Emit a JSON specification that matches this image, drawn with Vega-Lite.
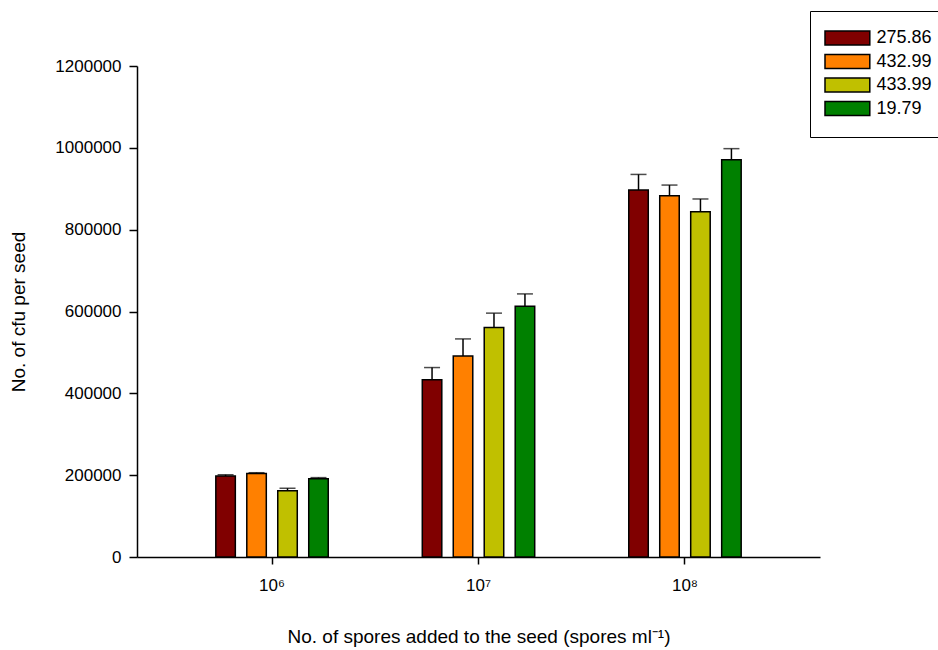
{
  "$schema": "https://vega.github.io/schema/vega-lite/v6.json",
  "autosize": "none",
  "width": 683,
  "height": 491,
  "padding": {"left": 137, "top": 66, "right": 118, "bottom": 93},
  "background": "white",
  "config": {
    "view": {"stroke": null},
    "font": "Liberation Sans",
    "axis": {"grid": false, "domainColor": "black", "tickColor": "black", "labelColor": "black", "titleColor": "black", "labelFont": "Liberation Sans", "titleFont": "Liberation Sans", "titleFontWeight": "normal"}
  },
  "data": {
    "values": [
      {"dose": "10⁶", "isolate": "275.86", "cfu": 198000, "upper": 201000},
      {"dose": "10⁶", "isolate": "432.99", "cfu": 204000, "upper": 206000},
      {"dose": "10⁶", "isolate": "433.99", "cfu": 162000, "upper": 168000},
      {"dose": "10⁶", "isolate": "19.79", "cfu": 191000, "upper": 194000},
      {"dose": "10⁷", "isolate": "275.86", "cfu": 433000, "upper": 463000},
      {"dose": "10⁷", "isolate": "432.99", "cfu": 491000, "upper": 533000},
      {"dose": "10⁷", "isolate": "433.99", "cfu": 561000, "upper": 596000},
      {"dose": "10⁷", "isolate": "19.79", "cfu": 613000, "upper": 643000},
      {"dose": "10⁸", "isolate": "275.86", "cfu": 897000, "upper": 935000},
      {"dose": "10⁸", "isolate": "432.99", "cfu": 883000, "upper": 909000},
      {"dose": "10⁸", "isolate": "433.99", "cfu": 844000, "upper": 875000},
      {"dose": "10⁸", "isolate": "19.79", "cfu": 971000, "upper": 998000}
    ]
  },
  "encoding": {
    "x": {
      "field": "dose", "type": "nominal", "sort": null,
      "scale": {"paddingInner": 0.4, "paddingOuter": 0.354},
      "axis": {"labelAngle": 0, "labelFontSize": 17, "tickSize": 7, "tickWidth": 1.5, "domainWidth": 1.5, "labelPadding": 13, "title": "No. of spores added to the seed (spores ml⁻¹)", "titleFontSize": 19, "titlePadding": 34}
    },
    "xOffset": {
      "field": "isolate", "type": "nominal",
      "sort": ["275.86", "432.99", "433.99", "19.79"],
      "scale": {"paddingInner": 0.37, "paddingOuter": 0.185}
    }
  },
  "layer": [
    {
      "mark": {"type": "bar", "stroke": "black", "strokeWidth": 1.5},
      "encoding": {
        "y": {
          "field": "cfu", "type": "quantitative",
          "scale": {"domain": [0, 1200000], "nice": false},
          "axis": {"values": [0, 200000, 400000, 600000, 800000, 1000000, 1200000], "format": "d", "labelFontSize": 17, "tickSize": 8, "tickWidth": 1.5, "domainWidth": 1.5, "labelPadding": 8, "title": "No. of cfu per seed", "titleFontSize": 19, "titlePadding": 26}
        },
        "color": {
          "field": "isolate", "type": "nominal",
          "scale": {"domain": ["275.86", "432.99", "433.99", "19.79"], "range": ["#800000", "#FF8000", "#C0C000", "#008000"]},
          "legend": {
            "title": null,
            "orient": "none",
            "legendX": 673,
            "legendY": -55,
            "padding": 18,
            "strokeColor": "black",
            "fillColor": "white",
            "symbolType": "M-3.2,-1H3.2V1H-3.2Z",
            "symbolSize": 196,
            "symbolStrokeColor": "black",
            "symbolOffset": 10.4,
            "labelOffset": 20,
            "labelFontSize": 18,
            "labelFont": "Liberation Sans",
            "labelColor": "black",
            "rowPadding": 3.5
          }
        }
      }
    },
    {
      "mark": {"type": "rule", "color": "black", "strokeWidth": 1.5},
      "encoding": {
        "y": {"field": "cfu", "type": "quantitative"},
        "y2": {"field": "upper"}
      }
    },
    {
      "mark": {"type": "tick", "color": "black", "thickness": 1.5, "size": 16},
      "encoding": {
        "y": {"field": "upper", "type": "quantitative"}
      }
    }
  ]
}
